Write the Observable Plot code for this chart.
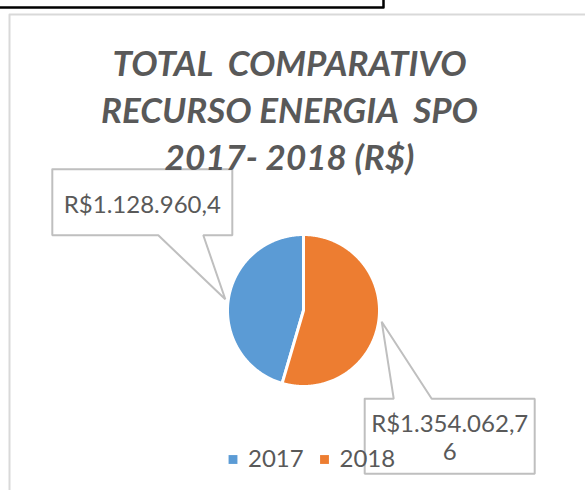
<!DOCTYPE html>
<html><head><meta charset="utf-8">
<script src="https://cdn.jsdelivr.net/npm/d3@7"></script>
<script src="https://cdn.jsdelivr.net/npm/@observablehq/plot@0.6"></script>
<style>
html,body{margin:0;padding:0;background:#fff;}
#chart svg text{white-space:pre;}
</style></head><body><div id="chart"></div>
<script>
// ---- data ----
const years = ["2017", "2018"];
const values = [1128960.4, 1354062.76];
const colors = ["#5B9BD5", "#ED7D31"];
const titleLines = ["TOTAL  COMPARATIVO", "RECURSO ENERGIA  SPO", "2017- 2018 (R$)"];

// ---- layout ----
const W = 585, H = 490;
const cx = 303, cy = 310, R = 76;
const textColor = "#595959";
const boxColor = "#BFBFBF";

const ptBR = d3.formatLocale({decimal: ",", thousands: ".", grouping: [3], currency: ["R$", ""]});
const fmt = ptBR.format("$,.2~f");
const wrap = s => s.length > 13 ? s.slice(0, 13) + "\n" + s.slice(13) : s;

const total = d3.sum(values);
const rot = 2 * Math.PI * values[1] / total; // 2018 slice starts at 12 o'clock
const arcs = d3.pie().sort(null).startAngle(rot).endAngle(rot + 2 * Math.PI)(values);
const pt = (a, r) => [cx + r * Math.sin(a), cy - r * Math.cos(a)];

const slicePts = arcs.flatMap((s, i) => {
  const n = Math.max(2, Math.ceil((s.endAngle - s.startAngle) / 0.01));
  const pts = [[cx, cy]];
  for (let k = 0; k <= n; k++) pts.push(pt(s.startAngle + (s.endAngle - s.startAngle) * k / n, R));
  pts.push([cx, cy]);
  return pts.map(([x, y]) => ({x, y, year: years[i]}));
});

// callout boxes relative to the leader tip (mid-angle of each slice)
const callouts = [
  {dx: -83, dy: -97, w: 180, h: 66, side: "bottom", b1: 16, b2: 61, ty: 2},
  {dx: 68, dy: 114.5, w: 170, h: 75, side: "top", b1: -56, b2: -18, ty: 1}
];
const calloutPts = [], calloutLabels = [];
arcs.forEach((s, i) => {
  const c = callouts[i];
  const [tx, ty] = pt((s.startAngle + s.endAngle) / 2, R + 3);
  const bx = tx + c.dx, by = ty + c.dy;
  const x0 = bx - c.w / 2, x1 = bx + c.w / 2, y0 = by - c.h / 2, y1 = by + c.h / 2;
  let poly;
  if (c.side === "bottom") {
    poly = [[x0, y0], [x1, y0], [x1, y1], [bx + c.b2, y1], [tx, ty], [bx + c.b1, y1], [x0, y1], [x0, y0]];
  } else {
    poly = [[x0, y0], [bx + c.b1, y0], [tx, ty], [bx + c.b2, y0], [x1, y0], [x1, y1], [x0, y1], [x0, y0]];
  }
  poly.forEach(([x, y]) => calloutPts.push({x, y, k: i}));
  calloutLabels.push({x: bx, y: by + c.ty, text: wrap(fmt(values[i]))});
});

const legendX0 = 232.5, legendStep = 91.5, legendY = 459;

const chart = Plot.plot({
  width: W, height: H,
  margin: 0,
  x: {domain: [0, W], range: [0, W], axis: null},
  y: {domain: [0, H], range: [0, H], axis: null},
  color: {domain: years, range: colors},
  style: {fontFamily: "Lato, 'Open Sans', sans-serif", background: "white", overflow: "hidden"},
  marks: [
    // outer chart frame
    Plot.line([[9, 520], [9, 14], [620, 14]], {x: d => d[0], y: d => d[1], stroke: "#D9D9D9", strokeWidth: 2}),
    // black cell border at top
    Plot.line([[0, 7], [383, 7], [383, -2]], {x: d => d[0], y: d => d[1], stroke: "#000", strokeWidth: 2.5}),
    // callouts
    Plot.line(calloutPts, {x: "x", y: "y", z: "k", fill: "white", stroke: boxColor, strokeWidth: 2, strokeLinejoin: "miter"}),
    // pie
    Plot.line(slicePts, {x: "x", y: "y", z: "year", fill: "year", stroke: "white", strokeWidth: 3, strokeLinejoin: "round"}),
    // title
    Plot.text([titleLines.join("\n")], {x: 289, y: 169, text: d => d, lineAnchor: "bottom", lineHeight: 47 / 35,
      fontSize: 35, fontWeight: "bold", fontStyle: "italic", fill: textColor}),
    // data labels
    Plot.text(calloutLabels, {x: "x", y: "y", text: "text", lineAnchor: "middle", lineHeight: 28 / 24,
      fontSize: 24, fill: textColor}),
    // legend
    Plot.dot(years, {x: (d, i) => legendX0 + i * legendStep, y: legendY, fill: d => d, symbol: "square", r: 5}),
    Plot.text(years, {x: (d, i) => legendX0 + i * legendStep + 15, y: legendY, text: d => d, textAnchor: "start",
      lineAnchor: "middle", fontSize: 24, fill: textColor})
  ]
});
document.getElementById("chart").append(chart);
</script>
</body></html>
